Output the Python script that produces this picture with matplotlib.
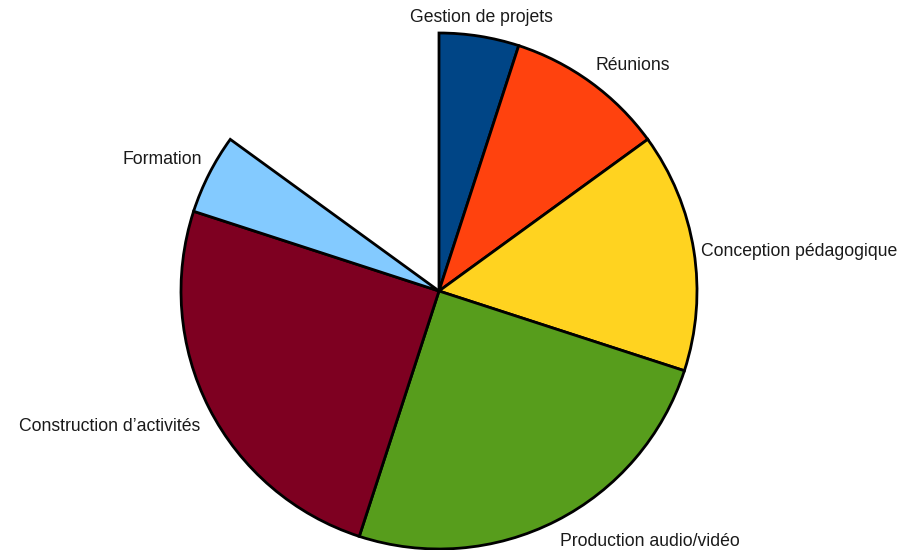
import matplotlib
matplotlib.use('Agg')
import matplotlib.pyplot as plt

plt.rcParams['font.family'] = ['Liberation Sans', 'DejaVu Sans']

# share of time per activity (the pie is not full: 15% is left empty)
labels = ['Gestion de projets', 'Réunions', 'Conception pédagogique',
          'Production audio/vidéo', 'Construction d\u2019activités', 'Formation']
shares = [0.05, 0.10, 0.15, 0.25, 0.25, 0.05]
colors = ['#004586', '#ff420e', '#ffd320', '#579d1c', '#7e0021', '#83caff']

fig = plt.figure(figsize=(9.17, 5.5), dpi=100)
ax = fig.add_axes([0, 0, 1, 1])

r_px = 258.0
cx, cy = 439.0, 259.0  # pie centre in pixels from bottom-left

wedges, texts = ax.pie(shares, labels=labels, colors=colors, normalize=False,
                       startangle=90, counterclock=False, labeldistance=1.06,
                       wedgeprops={'edgecolor': 'black', 'linewidth': 2},
                       textprops={'fontsize': 12.7, 'color': '#1a1a1a'})
texts[0].set_ha('center')

# small nudges of the label anchors, in pixels
nudges = [(0, 3), (-4, 4), (-8, -3), (-3, -7), (5, -11), (7, 7)]
for t, (dx, dy) in zip(texts, nudges):
    x, y = t.get_position()
    t.set_position((x + dx / r_px, y + dy / r_px))

ax.set_xlim(-cx / r_px, (917 - cx) / r_px)
ax.set_ylim(-cy / r_px, (550 - cy) / r_px)
ax.set_aspect('auto')
ax.axis('off')

fig.savefig('out.png', dpi=100)
